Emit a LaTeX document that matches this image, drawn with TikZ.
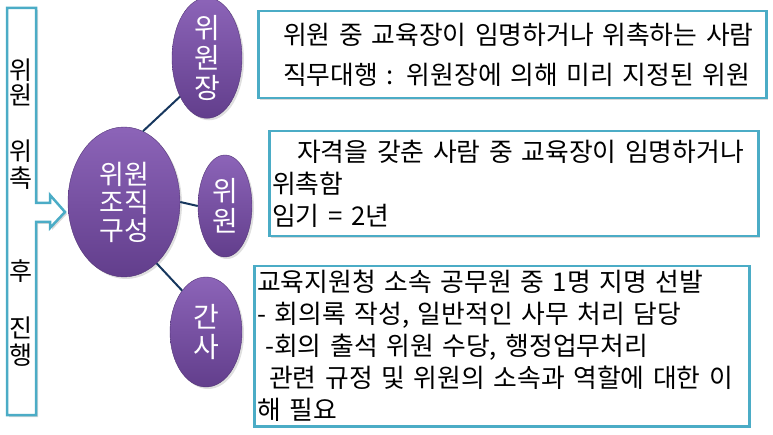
\documentclass[tikz,border=0pt]{standalone}
\usepackage{fontspec}
\setmainfont{Noto Sans CJK KR}
\usepackage{tikz}
\usetikzlibrary{positioning}
\usetikzlibrary{shapes.geometric}
\usetikzlibrary{shadows}
\definecolor{boxcyan}{RGB}{75,172,198}
\definecolor{linknavy}{RGB}{23,55,94}
\definecolor{purptop}{RGB}{140,100,184}
\definecolor{purpbot}{RGB}{98,62,140}

\begin{document}
\begin{tikzpicture}[x=1pt, y=-1pt,
  every node/.style={font=\fontsize{25.8}{32}\selectfont},
  role/.style={ellipse, inner sep=0pt, top color=purptop, bottom color=purpbot,
    draw=purpbot!85!black, line width=0.4pt, text=white, align=center,
    font=\fontsize{28}{30}\selectfont,
    drop shadow={opacity=0.25, shadow xshift=2pt, shadow yshift=-2pt}},
  info/.style={draw=boxcyan, line width=2.5pt, fill=white, anchor=north west,
    align=left, inner xsep=3pt, inner ysep=0pt,
    drop shadow={opacity=0.3, shadow xshift=2pt, shadow yshift=-2pt}},
  link/.style={draw=linknavy, line width=2pt}]
\useasboundingbox (0,0) rectangle (773,435);

% left frame with arrow
\draw[boxcyan, line width=2.5pt, fill=white, line join=miter,
  drop shadow={opacity=0.3, shadow xshift=2pt, shadow yshift=-2pt}]
  (7,8) -- (36,8) -- (36,203) -- (50,203) -- (50,195) -- (65,212)
  -- (50,228) -- (50,222) -- (36,222) -- (36,415) -- (7,415) -- cycle;
\foreach \ch/\yy in {위/70, 원/95, 위/151, 촉/178, 후/271, 진/328, 행/355}
  \node[font=\fontsize{25}{25}\selectfont] (side\yy) at (21,\yy) {\ch};

% boxes
\node[info, text width=502pt, minimum height=87pt] (chairbox) at (257,10)
  {\hspace*{22pt}위원 중 교육장이 임명하거나 위촉하는 사람\\[8pt]
   \hspace*{22pt}직무대행 : 위원장에 의해 미리 지정된 위원};
\node[info, text width=483pt, minimum height=105pt] (memberbox) at (268,130)
  {\hspace*{25pt}자격을 갖춘 사람 중 교육장이 임명하거나\\
   위촉함\\
   임기 = 2년};
\node[info, text width=489pt, minimum height=160pt] (secbox) at (253,265)
  {교육지원청 소속 공무원 중 1명 지명 선발\\
   - 회의록 작성, 일반적인 사무 처리 담당\\
   \hspace*{8pt}-회의 출석 위원 수당, 행정업무처리\\
   \hspace*{12pt}관련 규정 및 위원의 소속과 역할에 대한 이\\
   해 필요};

% ellipses
\node[role, minimum width=112pt, minimum height=150pt,
  font=\fontsize{27}{28}\selectfont] (org) at (124,202) {위원\\조직\\구성};
\node[role, minimum width=70pt, minimum height=101pt] (chair) at (207,58) {위\\원\\장};
\node[role, minimum width=54pt, minimum height=102pt] (member) at (225,206) {위\\원};
\node[role, minimum width=72pt, minimum height=110pt] (secretary) at (206,332) {간\\사};

% links
\draw[link] (org.75) -- (chair.235);
\draw[link] (org.east) -- (member.west);
\draw[link] (org.-62) -- (secretary.120);
\end{tikzpicture}
\end{document}
